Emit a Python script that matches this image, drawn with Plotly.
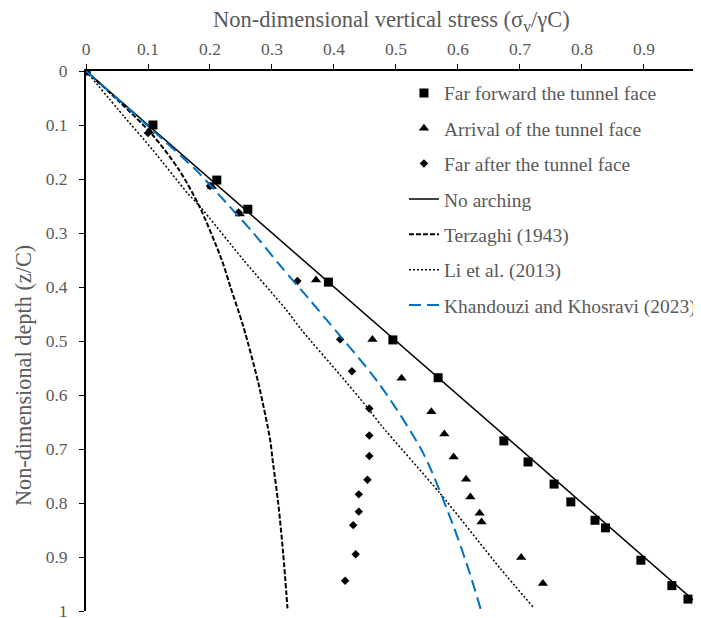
import plotly.graph_objects as go

# ---- data (x = sigma_v / gamma C, z = z / C) ----
far_fwd_x = [0, 0.108, 0.211, 0.261, 0.391, 0.495, 0.568, 0.674, 0.713, 0.755, 0.782, 0.821, 0.838, 0.895, 0.945, 0.971]
far_fwd_z = [0, 0.100, 0.202, 0.256, 0.391, 0.498, 0.568, 0.685, 0.724, 0.765, 0.798, 0.832, 0.846, 0.906, 0.953, 0.978]

arrival_x = [0, 0.102, 0.203, 0.248, 0.371, 0.462, 0.509, 0.557, 0.578, 0.593, 0.613, 0.620, 0.635, 0.638, 0.702, 0.737]
arrival_z = [0, 0.112, 0.214, 0.265, 0.387, 0.497, 0.569, 0.631, 0.672, 0.715, 0.756, 0.789, 0.819, 0.835, 0.901, 0.949]

far_after_x = [0, 0.100, 0.200, 0.246, 0.341, 0.410, 0.429, 0.457, 0.457, 0.457, 0.454, 0.440, 0.440, 0.431, 0.435, 0.418]
far_after_z = [0, 0.115, 0.213, 0.262, 0.389, 0.497, 0.556, 0.625, 0.675, 0.713, 0.757, 0.784, 0.816, 0.841, 0.895, 0.944]

no_arch_x = [0, 1.0]
no_arch_z = [0, 1.0]

terzaghi_x = [0, 0.054, 0.1075, 0.150, 0.183, 0.219, 0.233, 0.254, 0.278, 0.297, 0.301, 0.310, 0.318, 0.325]
terzaghi_z = [0, 0.057, 0.1185, 0.183, 0.251, 0.350, 0.400, 0.474, 0.578, 0.683, 0.720, 0.800, 0.893, 0.995]

li_x = [0, 0.062, 0.1075, 0.164, 0.184, 0.254, 0.3235, 0.348, 0.410, 0.453, 0.476, 0.571, 0.668, 0.723]
li_z = [0, 0.085, 0.146, 0.2265, 0.251, 0.350, 0.443, 0.480, 0.563, 0.622, 0.656, 0.782, 0.921, 0.995]

khan_x = [0, 0.100, 0.177, 0.215, 0.270, 0.313, 0.361, 0.386, 0.472, 0.544, 0.593, 0.619, 0.637]
khan_z = [0, 0.102, 0.183, 0.230, 0.300, 0.360, 0.424, 0.458, 0.578, 0.708, 0.844, 0.930, 0.998]

x_ticks = [0, 0.1, 0.2, 0.3, 0.4, 0.5, 0.6, 0.7, 0.8, 0.9]
x_tick_text = ["0", "0.1", "0.2", "0.3", "0.4", "0.5", "0.6", "0.7", "0.8", "0.9"]
y_ticks = [0, 0.1, 0.2, 0.3, 0.4, 0.5, 0.6, 0.7, 0.8, 0.9, 1]
y_tick_text = ["0", "0.1", "0.2", "0.3", "0.4", "0.5", "0.6", "0.7", "0.8", "0.9", "1"]

x_title = "Non-dimensional vertical stress (σ<sub>v</sub>/γC)"
y_title = "Non-dimensional depth (z/C)"

FONT = "Liberation Serif, Times New Roman, serif"
GREY = "#595959"

fig = go.Figure()

fig.add_trace(go.Scatter(x=far_fwd_x, y=far_fwd_z, mode="markers", name="Far forward the tunnel face",
                         legendgroup="a", marker=dict(symbol="square", size=9, color="black")))
fig.add_trace(go.Scatter(x=arrival_x, y=arrival_z, mode="markers", name="Arrival of the tunnel face",
                         legendgroup="b", marker=dict(symbol="triangle-up", size=9, color="black")))
fig.add_trace(go.Scatter(x=far_after_x, y=far_after_z, mode="markers", name="Far after the tunnel face",
                         legendgroup="c", marker=dict(symbol="diamond", size=6.5, color="black")))
fig.add_trace(go.Scatter(x=no_arch_x, y=no_arch_z, mode="lines", name="No arching",
                         legendgroup="d", line=dict(color="black", width=1.5)))
fig.add_trace(go.Scatter(x=terzaghi_x, y=terzaghi_z, mode="lines", name="Terzaghi (1943)",
                         legendgroup="e", line=dict(color="black", width=2, dash="5px,2px", shape="spline", smoothing=0.8)))
fig.add_trace(go.Scatter(x=li_x, y=li_z, mode="lines", name="Li et al. (2013)",
                         legendgroup="f", line=dict(color="black", width=1.5, dash="2px,2px", shape="spline", smoothing=0.6)))
fig.add_trace(go.Scatter(x=khan_x, y=khan_z, mode="lines", name="Khandouzi and Khosravi (2023)",
                         legendgroup="g", line=dict(color="#0070C0", width=2, dash="12px,6px", shape="spline", smoothing=0.8)))

# page body has an 8px margin: figure is drawn offset by (8, 8)
fig.update_layout(
    width=693, height=610,
    margin=dict(l=78, r=0, t=63, b=7, autoexpand=False),
    paper_bgcolor="white", plot_bgcolor="white",
    font=dict(family=FONT, size=17.5, color=GREY),
    showlegend=True,
    legend=dict(x=0.517, y=0.995, xanchor="left", yanchor="top",
                bgcolor="rgba(255,255,255,0)", font=dict(family=FONT, size=19.5, color=GREY),
                traceorder="grouped", tracegroupgap=7, itemwidth=30),
    xaxis=dict(
        side="top", range=[0, 0.992], tickvals=x_ticks, ticktext=x_tick_text,
        showgrid=False, zeroline=False, showline=True, linecolor="black", linewidth=2,
        ticks="outside", ticklen=5, tickcolor="black", tickwidth=1, automargin=False,
        ticklabeloverflow="allow",
        tickfont=dict(family=FONT, size=17.5, color=GREY), ticklabelstandoff=2,
    ),
    yaxis=dict(
        range=[1, 0], tickvals=y_ticks, ticktext=y_tick_text,
        showgrid=False, zeroline=False, showline=True, linecolor="black", linewidth=2,
        ticks="outside", ticklen=5, tickcolor="black", tickwidth=1, automargin=False,
        ticklabeloverflow="allow",
        tickfont=dict(family=FONT, size=17.5, color=GREY), ticklabelstandoff=8,
    ),
    annotations=[
        dict(text=x_title, xref="paper", yref="paper", x=0.496, y=1.0935,
             xanchor="center", yanchor="middle", showarrow=False,
             font=dict(family=FONT, size=22.5, color=GREY)),
        dict(text=y_title, xref="paper", yref="paper", x=-0.1024, y=0.435,
             xanchor="center", yanchor="middle", textangle=-90, showarrow=False,
             font=dict(family=FONT, size=22.3, color=GREY)),
    ],
)

fig.write_html("out.html")
